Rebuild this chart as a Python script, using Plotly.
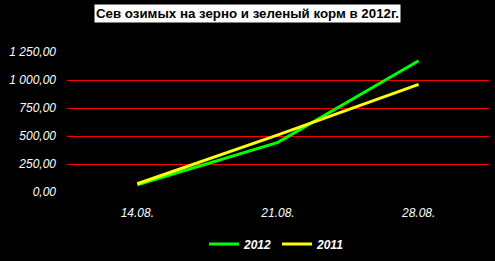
import plotly.graph_objects as go

categories = ["14.08.", "21.08.", "28.08."]
values_2012 = [65, 443, 1172]
values_2011 = [74, 510, 961]
y_ticks = [0, 250, 500, 750, 1000, 1250]
y_tick_labels = ["0,00", "250,00", "500,00", "750,00", "1 000,00", "1 250,00"]
title_text = "Сев озимых на зерно и зеленый корм в 2012г."

x_pos = list(range(len(categories)))

fig = go.Figure()
fig.add_trace(go.Scatter(x=x_pos, y=values_2012, mode="lines", name="2012",
                         line=dict(color="#00FF00", width=3)))
fig.add_trace(go.Scatter(x=x_pos, y=values_2011, mode="lines", name="2011",
                         line=dict(color="#FFFF00", width=3)))

fig.update_layout(
    width=495, height=261,
    paper_bgcolor="black", plot_bgcolor="black",
    margin=dict(l=67, r=6, t=52, b=69),
    font=dict(family="Liberation Sans, Arial", color="white", size=12),
    showlegend=True,
    legend=dict(orientation="h", x=(277 - 67) / 422, xanchor="center", y=(261 - 244) / 261, yref="container",
                yanchor="middle", font=dict(size=12, weight="bold", style="italic", color="white"),
                bgcolor="rgba(0,0,0,0)", itemwidth=30, tracegroupgap=0),
    xaxis=dict(range=[-0.5, 2.5], tickvals=x_pos, ticktext=categories, showgrid=False,
               zeroline=False, showline=False, ticks="",
               tickfont=dict(size=12, style="italic", color="white"), ticklabelstandoff=12),
    yaxis=dict(range=[0, 1250], tickvals=y_ticks, ticktext=y_tick_labels, showgrid=True,
               gridcolor="#FF0000", gridwidth=1, zeroline=True, zerolinecolor="black",
               showline=False, ticks="",
               tickfont=dict(size=12, style="italic", color="white"), ticklabelstandoff=10),
    annotations=[dict(text="<b>" + title_text + "</b>", xref="paper", yref="paper",
                      x=(247 - 67) / 422, y=(192 - 13.5) / 140, xanchor="center", yanchor="middle",
                      showarrow=False, bgcolor="white", borderpad=1,
                      font=dict(size=13.3, color="black", family="Liberation Sans, Arial"))],
)

fig.write_html("out.html")
